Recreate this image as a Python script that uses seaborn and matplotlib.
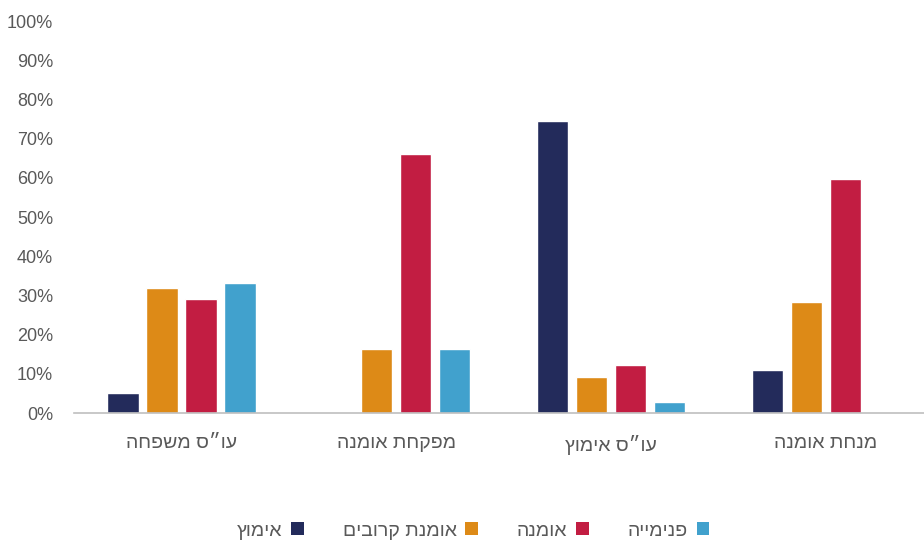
import matplotlib
matplotlib.use("Agg")
import matplotlib.pyplot as plt
from matplotlib.patches import Patch
import seaborn as sns
import pandas as pd
import numpy as np

categories = ["עו״ס משפחה", "מפקחת אומנה", "עו״ס אימוץ", "מנחת אומנה"]
series = ["אימוץ", "אומנת קרובים", "אומנה", "פנימייה"]
adoption = [5.1, np.nan, 74.5, 11.0]
kin_foster = [31.9, 16.3, 9.2, 28.3]
foster = [29.1, 66.1, 12.2, 59.7]
residential = [33.2, 16.3, 2.8, np.nan]
colors = ["#232B5B", "#DD8A17", "#C21D42", "#41A1CD"]
yticks = list(range(0, 101, 10))


def vis(s):
    # matplotlib has no bidi support: reverse RTL strings to visual order
    return s[::-1]


sns.set_theme(style="white")
plt.rcParams["font.family"] = ["Liberation Sans", "DejaVu Sans"]

rows = []
for vals, s in zip([adoption, kin_foster, foster, residential], series):
    for c, v in zip(categories, vals):
        rows.append({"cat": vis(c), "series": vis(s), "value": v})
df = pd.DataFrame(rows)

fig = plt.figure(figsize=(9.24, 5.45), dpi=100)
ax = fig.add_axes([74 / 924, (545 - 413) / 545, 850 / 924, 392 / 545])

sns.barplot(data=df, x="cat", y="value", hue="series",
            order=[vis(c) for c in categories],
            hue_order=[vis(s) for s in series],
            palette=colors, width=0.726, gap=0.2, ax=ax,
            legend=False, saturation=1)

ax.set_ylim(0, 100)
ax.set_xlim(-0.5, 3.456)
ax.set_yticks(yticks)
ax.set_yticklabels([f"{t}%" for t in yticks])
ax.set_xlabel("")
ax.set_ylabel("")
for s in ["top", "right", "left"]:
    ax.spines[s].set_visible(False)
ax.spines["bottom"].set_color("#BFBFBF")
ax.spines["bottom"].set_linewidth(1.2)
ax.tick_params(axis="y", length=0, pad=15, labelsize=13, labelcolor="#595959")
ax.tick_params(axis="x", length=0, pad=16, labelsize=14, labelcolor="#595959")

h = [Patch(facecolor=c, edgecolor="none") for c in colors]
leg = fig.legend(h, [vis(s) for s in series], loc="center",
                 bbox_to_anchor=(473 / 924, 1 - 531 / 545), ncol=4,
                 frameon=False, markerfirst=False, fontsize=14,
                 handlelength=0.65, handleheight=0.65, handletextpad=0.45,
                 columnspacing=2.0)
for t in leg.get_texts():
    t.set_color("#595959")

fig.savefig("out.png", dpi=100)
